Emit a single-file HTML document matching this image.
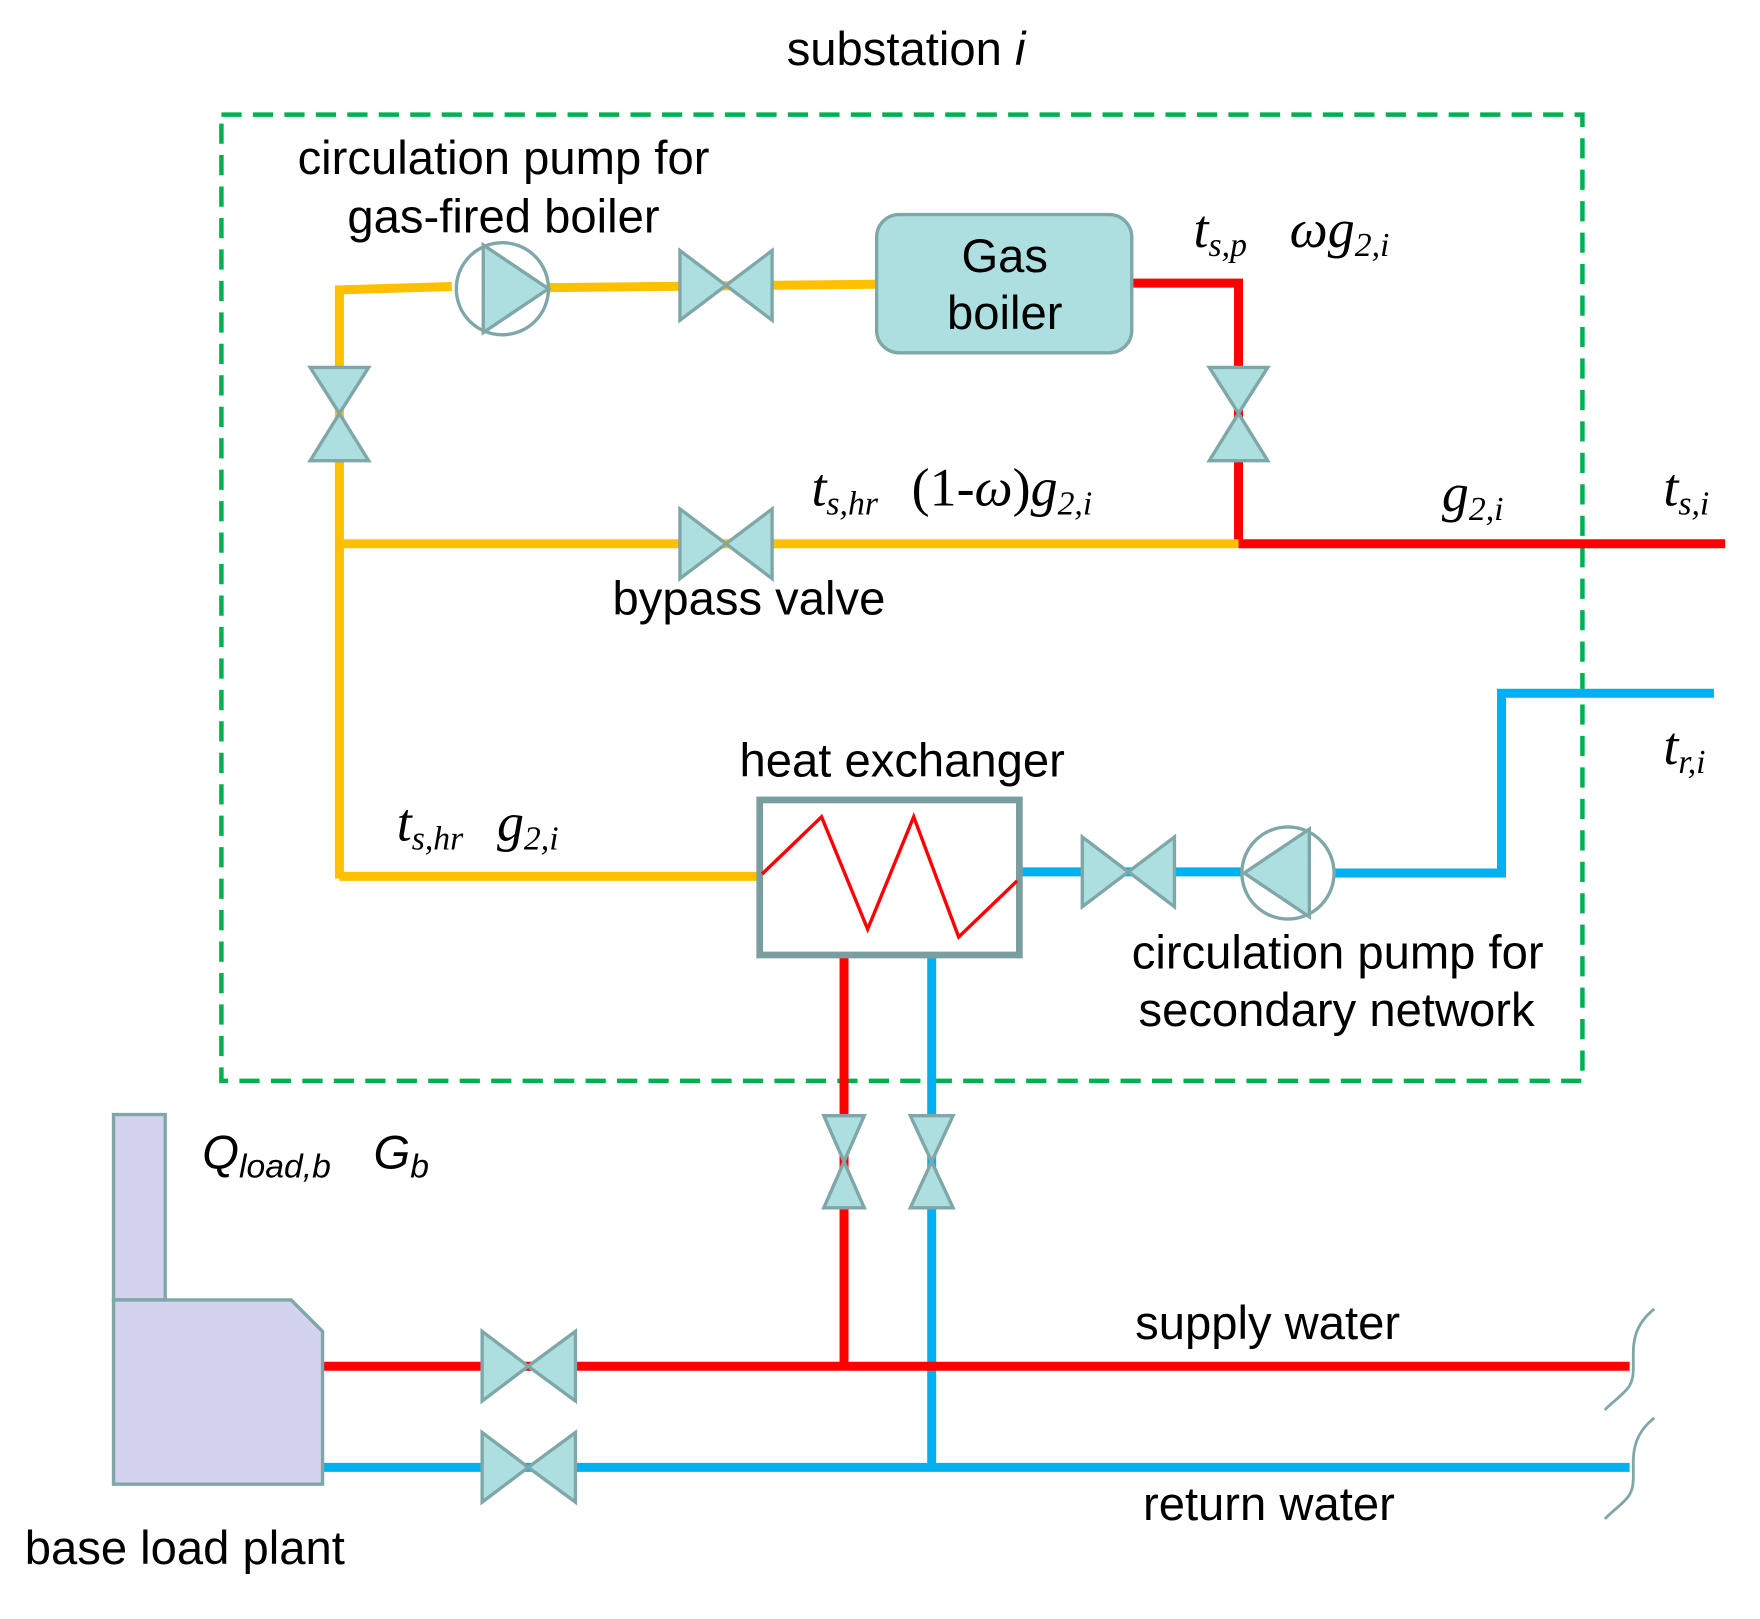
<!DOCTYPE html>
<html><head><meta charset="utf-8"><style>
html,body{margin:0;padding:0;background:#fff}
svg{display:block}
.s{font-family:"Liberation Sans",sans-serif;font-size:42px;fill:#000}
.m{font-family:"Liberation Serif",serif;font-style:italic;font-size:48px;fill:#000}
.sub{font-size:30px}
.v{fill:#aedfe0;stroke:#7fa7a8;stroke-width:3}
</style></head><body>
<svg width="1760" height="1619" viewBox="0 0 1566 1441" preserveAspectRatio="none" xmlns="http://www.w3.org/2000/svg">
<rect x="197" y="102" width="1211" height="860" fill="none" stroke="#00b050" stroke-width="4" stroke-dasharray="18,10"/>
<text class="s" x="700" y="58">substation <tspan font-style="italic">i</tspan></text>
<text class="s" x="448" y="155" text-anchor="middle">circulation pump for</text>
<text class="s" x="448" y="207" text-anchor="middle">gas-fired boiler</text>
<g fill="none" stroke-width="8">
<polyline points="302,782 302,258 402,255" stroke="#ffc000"/>
<line x1="488" y1="256" x2="780" y2="253" stroke="#ffc000"/>
<polyline points="1007,252 1102,252 1102,484" stroke="#ff0000"/>
<line x1="302" y1="484" x2="1104" y2="484" stroke="#ffc000"/>
<line x1="1102" y1="484" x2="1535" y2="484" stroke="#ff0000"/>
<line x1="302" y1="780" x2="676" y2="780" stroke="#ffc000"/>
<polyline points="907,776 1104,776" stroke="#00b0f0"/>
<polyline points="1187,777 1336,777 1336,617 1525,617" stroke="#00b0f0"/>
<polyline points="751,850 751,1216" stroke="#ff0000"/>
<polyline points="829,850 829,1306" stroke="#00b0f0"/>
<line x1="287" y1="1216" x2="1450" y2="1216" stroke="#ff0000"/>
<line x1="287" y1="1306" x2="1450" y2="1306" stroke="#00b0f0"/>
</g>
<rect x="780" y="191" width="227" height="123" rx="20" fill="#aedfe0" stroke="#7fa7a8" stroke-width="3"/>
<text class="s" x="894" y="242" text-anchor="middle">Gas</text>
<text class="s" x="894" y="293" text-anchor="middle">boiler</text>
<circle cx="447" cy="257" r="41" fill="#fff" stroke="#7fa7a8" stroke-width="3"/>
<polygon class="v" points="430,218 430,296 488,257"/>
<circle cx="1146" cy="777" r="41" fill="#fff" stroke="#7fa7a8" stroke-width="3"/>
<polygon class="v" points="1165,738 1165,816 1107,777"/>
<g class="v">
<polygon points="605,223 605,285 646,254"/><polygon points="687,223 687,285 646,254"/>
<polygon points="605,453 605,515 646,484"/><polygon points="687,453 687,515 646,484"/>
<polygon points="963,745 963,807 1004,776"/><polygon points="1045,745 1045,807 1004,776"/>
<polygon points="429,1185 429,1247 470,1216"/><polygon points="512,1185 512,1247 470,1216"/>
<polygon points="429,1275 429,1337 470,1306"/><polygon points="512,1275 512,1337 470,1306"/>
<polygon points="276,327 328,327 302,368"/><polygon points="276,410 328,410 302,368"/>
<polygon points="1076,327 1128,327 1102,368"/><polygon points="1076,410 1128,410 1102,368"/>
<polygon points="733,993 769,993 751,1034"/><polygon points="733,1075 769,1075 751,1034"/>
<polygon points="810,993 848,993 829,1034"/><polygon points="810,1075 848,1075 829,1034"/>
</g>
<rect x="676" y="712" width="231" height="138" fill="#fff" stroke="#7a9e9f" stroke-width="6"/>
<polyline points="678,778 731,727 772,827 813,727 853,834 905,784" fill="none" stroke="#ff0000" stroke-width="3"/>
<rect x="101" y="992" width="46" height="165" fill="#d3d3f0" stroke="#7fa7a8" stroke-width="3"/>
<polygon points="101,1157 259,1157 287,1185 287,1321 101,1321" fill="#d3d3f0" stroke="#7fa7a8" stroke-width="3"/>
<g fill="none" stroke="#7fa7a8" stroke-width="2.5">
<path d="M1472,1165 C1440,1190 1462,1220 1448,1236 C1440,1245 1432,1250 1428,1255"/>
<path d="M1472,1262 C1440,1287 1462,1317 1448,1333 C1440,1342 1432,1347 1428,1352"/>
</g>
<text class="s" x="545" y="547">bypass valve</text>
<text class="s" x="658" y="691">heat exchanger</text>
<text class="s" x="1007" y="862">circulation pump for</text>
<text class="s" x="1013" y="913">secondary network</text>
<text class="s" x="1010" y="1192">supply water</text>
<text class="s" x="1017" y="1353">return water</text>
<text class="s" x="22" y="1392">base load plant</text>
<text class="s" x="180" y="1040" font-style="italic">Q<tspan class="sub" dy="8">load,b</tspan><tspan dy="-8" dx="38">G</tspan><tspan class="sub" dy="8">b</tspan></text>
<text class="m" x="1062" y="220">t<tspan class="sub" dy="8">s,p</tspan><tspan dy="-8" dx="38">ωg</tspan><tspan class="sub" dy="8">2,i</tspan></text>
<text class="m" x="722" y="450">t<tspan class="sub" dy="8">s,hr</tspan><tspan dy="-8" dx="30" font-style="normal">(1-</tspan><tspan>ω</tspan><tspan font-style="normal">)</tspan><tspan>g</tspan><tspan class="sub" dy="8">2,i</tspan></text>
<text class="m" x="1283" y="455">g<tspan class="sub" dy="8">2,i</tspan></text>
<text class="m" x="1480" y="450">t<tspan class="sub" dy="8">s,i</tspan></text>
<text class="m" x="1480" y="680">t<tspan class="sub" dy="8">r,i</tspan></text>
<text class="m" x="353" y="748">t<tspan class="sub" dy="8">s,hr</tspan><tspan dy="-8" dx="30">g</tspan><tspan class="sub" dy="8">2,i</tspan></text>
</svg>
</body></html>
